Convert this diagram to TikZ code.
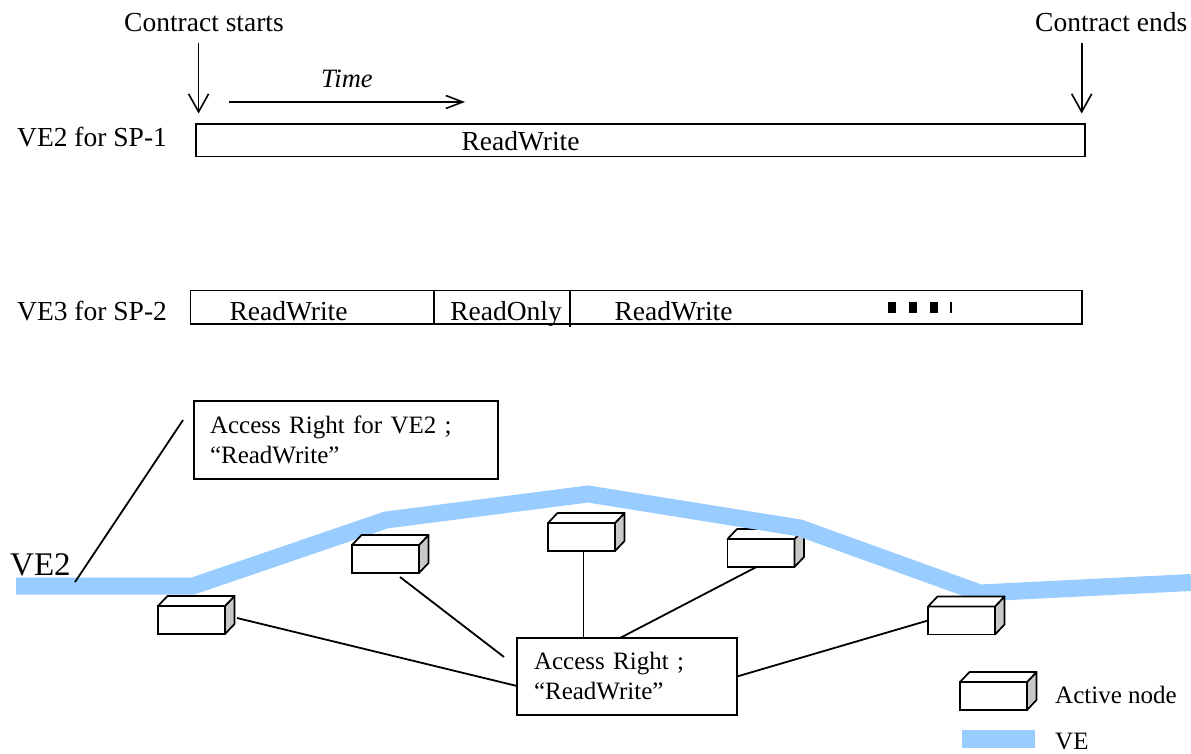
\documentclass[tikz,border=0pt]{standalone}
\usepackage{fontspec}
\setmainfont{Liberation Serif}
\usetikzlibrary{arrows.meta,calc}
\definecolor{veblue}{RGB}{153,204,255}
\definecolor{sideshade}{RGB}{200,200,200}
\tikzset{
  lbl/.style={inner sep=0pt, anchor=base west, font=\fontsize{27.5}{30}\selectfont},
  smalltext/.style={font=\fontsize{25}{30}\selectfont},
  bar/.style={draw, line width=1.9pt, inner sep=0pt, outer sep=0pt},
  infobox/.style={draw, line width=1.9pt, align=left, inner ysep=0pt, outer sep=0pt,
    font=\fontsize{25}{30}\selectfont},
  anode/.style={draw, fill=white, line width=1.7pt, minimum width=67pt,
    minimum height=28pt, inner sep=0pt, outer sep=0pt},
  cubetop/.style={draw, fill=white, line width=1.7pt, line join=round},
  cubeside/.style={draw, fill=sideshade, line width=1.7pt, line join=round},
  link/.style={line width=1.8pt},
  ve/.style={draw=veblue, line width=17pt},
  downarr/.style={line width=1.6pt, -{Straight Barb[length=18pt,width=20pt]}},
  timearr/.style={line width=1.6pt, -{Straight Barb[length=17pt,width=13pt]}},
}
% top and side faces of an active-node box, drawn next to its front face
\newcommand\cubefaces[1]{%
  \path[cubeside] (#1.north east) -- ++(9.5,-10) -- ([shift={(9.5,-10)}]#1.south east)
    -- (#1.south east) -- cycle;
  \path[cubetop] (#1.north west) -- ++(9.5,-10) -- ([shift={(9.5,-10)}]#1.north east)
    -- (#1.north east) -- cycle;
}
\begin{document}
\begin{tikzpicture}[x=1pt,y=-1pt]
\useasboundingbox (0,0) rectangle (1191,754);

% ---- contract timeline ----
\node[lbl] (cs) at (124,32) {Contract starts};
\node[lbl] (ce) at (1035,32) {Contract ends};
\node[lbl, font=\fontsize{26.5}{30}\selectfont\itshape] (time) at (321,88) {Time};
\coordinate (t0) at (228.5,102);
\coordinate (t1) at (465,102);
\draw[timearr] (t0) -- (t1);

\node[lbl] (lab2) at (17,147) {VE2 for SP-1};
\node[bar, minimum width=889pt, minimum height=32.5pt] (bar2) at (640.5,140.25) {};
\node[lbl, anchor=base] (rw0) at (520.5,151) {ReadWrite};

\coordinate (csfoot) at (198.6,43);
\coordinate (cefoot) at (1081.7,43);
\draw[downarr] (csfoot) -- ([shift={(2.6,-10.5)}]bar2.north west);
\draw[downarr] (cefoot) -- ([shift={(-3.3,-10.5)}]bar2.north east);

\node[lbl] (lab3) at (17,320) {VE3 for SP-2};
\node[bar, minimum width=891.5pt, minimum height=33.5pt] (bar3) at (636.25,307.25) {};
\draw[bar] ([xshift=243.5pt]bar3.north west) -- ([xshift=243.5pt]bar3.south west);
\draw[bar] ([xshift=379.5pt]bar3.north west) -- ([shift={(379.5,3)}]bar3.south west);
\node[lbl, anchor=base] (rw1) at (288.5,320) {ReadWrite};
\node[lbl, anchor=base] (ro1) at (506,320) {ReadOnly};
\node[lbl, anchor=base] (rw2) at (673.5,320) {ReadWrite};
\fill (888,302) rectangle ++(8,10.5);
\fill (909,302) rectangle ++(8,10.5);
\fill (930,302) rectangle ++(8,10.5);
\fill (949.5,302) rectangle ++(2.2,10.5);

% ---- network with the VE path ----
\node[anode] (n4) at (761,553) {};
\cubefaces{n4}

\draw[ve] (16,586) -- (193,586) -- (386,520) -- (588,494) -- (800,528)
  -- (980,593) -- (1191,582.5);
\coordinate (vetip) at (75,582);

\node[lbl, font=\fontsize{33}{36}\selectfont] (ve2) at (10,575) {VE2};

\node[infobox, text width=272pt, inner xsep=16pt, minimum height=78pt] (arv2) at (346,440)
  {Access Right for VE2 ;\\``ReadWrite''};
\draw[link] ([shift={(-11,19)}]arv2.north west) -- (vetip);

\node[anode] (n1) at (191.5,620) {};
\cubefaces{n1}
\node[anode] (n2) at (385.5,559) {};
\cubefaces{n2}
\node[anode] (n3) at (581.5,537) {};
\cubefaces{n3}
\node[anode] (n5) at (961.5,620.5) {};
\cubefaces{n5}

\node[infobox, text width=186pt, inner xsep=17pt, minimum height=77pt] (ar) at (627,676.5)
  {Access Right ;\\``ReadWrite''};

\draw[link] ([shift={(12,-2)}]n1.east) -- ([shift={(0,-29)}]ar.south west);
\draw[link] ([shift={(14.5,4)}]n2.south) -- ([shift={(-13,19)}]ar.north west);
\draw[link] ([shift={(2,0)}]n3.south) -- ([shift={(2,0)}]n3.south |- ar.north);
\draw[link] ([shift={(-4.6,0)}]n4.south) -- ([shift={(103,0)}]ar.north west);
\draw[link] (n5.west) -- (ar.east);

% ---- legend ----
\node[anode] (lg) at (993.5,696) {};
\cubefaces{lg}
\node[lbl, smalltext] (lgt) at (1055,703) {Active node};
\fill[veblue] (962,730) rectangle (1035,748);
\node[lbl, smalltext] (lgv) at (1055,749.5) {VE};
\end{tikzpicture}
\end{document}
